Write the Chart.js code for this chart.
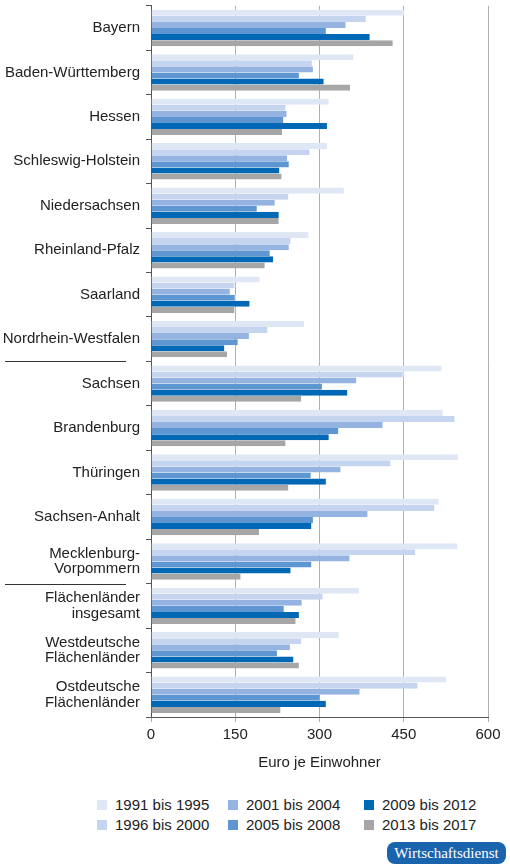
<!DOCTYPE html>
<html><head><meta charset="utf-8">
<script src="https://cdn.jsdelivr.net/npm/chart.js@4/dist/chart.umd.min.js"></script>
<style>
body{margin:0;background:#fff;font-family:"Liberation Sans",Arial,sans-serif;overflow:hidden;}
#wrap{position:absolute;left:0;top:-16px;width:510px;height:796px;}
#legend{position:absolute;left:0;top:796px;width:510px;font-size:15px;color:#222;}
.li{position:absolute;display:flex;align-items:center;}
.sw{width:10px;height:10px;margin-right:8px;}
#badge{position:absolute;left:387px;top:842px;width:119px;height:22px;border-radius:8px;background:#1a63ad;color:#fff;font-family:"Liberation Serif",serif;font-size:15px;text-align:center;line-height:22px;}
</style></head><body>
<div id="wrap"><canvas id="c"></canvas></div>
<div id="legend"></div>
<div id="badge">Wirtschaftsdienst</div>
<script>
const categories=[["Bayern"],["Baden-Württemberg"],["Hessen"],["Schleswig-Holstein"],["Niedersachsen"],["Rheinland-Pfalz"],["Saarland"],["Nordrhein-Westfalen"],["Sachsen"],["Brandenburg"],["Thüringen"],["Sachsen-Anhalt"],["Mecklenburg-","Vorpommern"],["Flächenländer","insgesamt"],["Westdeutsche","Flächenländer"],["Ostdeutsche","Flächenländer"]];
const seriesNames=["1991 bis 1995","1996 bis 2000","2001 bis 2004","2005 bis 2008","2009 bis 2012","2013 bis 2017"];
const s1991=[450,362,318,315,345,282,195,274,519,521,548,514,547,372,336,527];
const s1996=[384,288,241,284,246,250,150,209,450,542,428,506,472,307,269,476];
const s2001=[348,290,243,244,222,247,142,176,367,414,339,387,355,270,249,373];
const s2005=[313,265,237,247,190,213,151,156,306,335,286,290,287,238,226,302];
const s2009=[391,309,315,230,229,219,177,132,351,318,313,287,250,265,255,313];
const s2013=[432,356,235,234,229,204,150,137,269,241,246,194,161,259,265,232];
const xTicks=[0,150,300,450,600];
const colors=["#dfe7f5","#c6d5ef","#95b3e0","#5d96d0","#0068b4","#a6a6a6"];
const all=[s1991,s1996,s2001,s2005,s2009,s2013];
const FONT="Liberation Sans";
const sepPlugin={id:'sep',afterDraw(ch){const y=ch.scales.y,ctx=ch.ctx;ctx.save();ctx.strokeStyle='#333';ctx.lineWidth=1;
[7,12].forEach(i=>{const py=Math.round((y.getPixelForValue(i)+y.getPixelForValue(i+1))/2)+0.5;ctx.beginPath();ctx.moveTo(5,py);ctx.lineTo(126,py);ctx.stroke();});ctx.restore();}};
new Chart(document.getElementById('c'),{type:'bar',
data:{labels:categories,datasets:all.map((d,i)=>({label:seriesNames[i],data:d,backgroundColor:colors[i],borderColor:'#fff',borderWidth:{right:1,top:0,bottom:0,left:0},categoryPercentage:0.82,barPercentage:1}))},
options:{indexAxis:'y',responsive:true,maintainAspectRatio:false,animation:false,
layout:{padding:{left:2,right:22,top:4,bottom:4}},
plugins:{legend:{display:false},tooltip:{enabled:false}},
scales:{
x:{min:0,max:600,afterBuildTicks(s){s.ticks=xTicks.map(v=>({value:v}));},
grid:{color:'#b0b0b0',lineWidth:1,drawTicks:true,tickLength:5},border:{color:'#555'},
ticks:{color:'#222',font:{family:FONT,size:15},padding:4},
title:{display:true,text:'Euro je Einwohner',color:'#222',font:{family:FONT,size:15},padding:{top:6}}},
y:{afterFit(s){s.width=149;},grid:{drawOnChartArea:false,tickLength:5,offset:true,color:'#555'},border:{color:'#555'},
ticks:{color:'#222',font:{family:FONT,size:15,lineHeight:1.05},padding:6}}}},
plugins:[sepPlugin]});
const lg=document.getElementById('legend');
const pos=[[97,0],[97,20],[228,0],[228,20],[364,0],[364,20]];
seriesNames.forEach((n,i)=>{const d=document.createElement('div');d.className='li';d.style.left=pos[i][0]+'px';d.style.top=pos[i][1]+'px';d.innerHTML='<span class="sw" style="background:'+colors[i]+'"></span>'+n;lg.appendChild(d);});
</script></body></html>
